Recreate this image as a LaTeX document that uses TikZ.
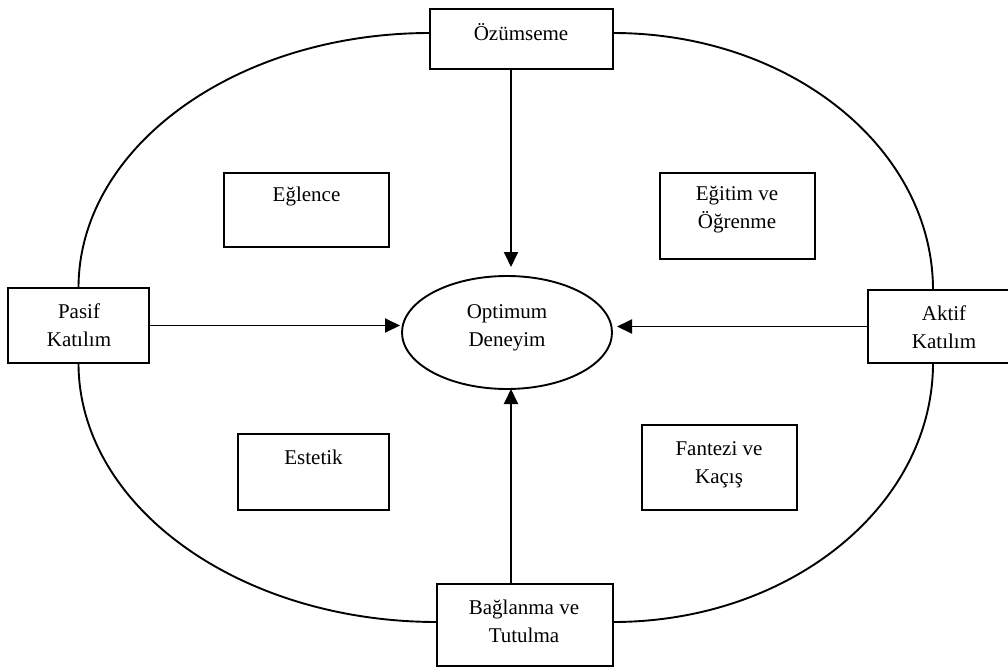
\documentclass[tikz,border=0pt]{standalone}
\usepackage{fontspec}
\setmainfont{Liberation Serif}
\usetikzlibrary{arrows.meta,shapes.geometric}
\begin{document}
\begin{tikzpicture}[x=1pt,y=-1pt,
  every node/.style={inner sep=0pt, outer sep=0pt},
  boxnode/.style={draw, line width=1.9pt, rectangle, fill=none},
  txt/.style={font=\fontsize{21}{28}\selectfont, align=center},
  ring/.style={line width=1.9pt},
  arr/.style={line width=1.9pt, -{Triangle[length=15pt,width=14pt]}}
]
\useasboundingbox (0,0) rectangle (1008,668);
\fill[white] (0,0) rectangle (1008,668);

% boxes
\node[boxnode, minimum width=183pt, minimum height=60pt] (ozum) at (521.5,39) {};
\node[boxnode, minimum width=165pt, minimum height=74pt] (egl) at (306.5,210) {};
\node[boxnode, minimum width=155pt, minimum height=86pt] (egit) at (737.5,216) {};
\node[boxnode, minimum width=141pt, minimum height=75pt] (pasif) at (78.5,325.5) {};
\node[boxnode, minimum width=152pt, minimum height=73pt] (aktif) at (944,326.5) {};
\node[boxnode, minimum width=151pt, minimum height=76pt] (estetik) at (313.5,472) {};
\node[boxnode, minimum width=155pt, minimum height=85pt] (fantezi) at (719.5,467.5) {};
\node[boxnode, minimum width=176pt, minimum height=82pt] (bag) at (525,625) {};
\node[draw, line width=1.9pt, ellipse, minimum width=210pt, minimum height=113pt] (opt) at (507,332.5) {};

% texts
\node[txt] (ozumt) at (521,32.5) {Özümseme};
\node[txt] (eglt) at (306.5,196.5) {Eğlence};
\node[txt] (egitt) at (737,210) {Eğitim ve\\Öğrenme};
\node[txt] (pasift) at (79,325.5) {Pasif\\Katılım};
\node[txt] (optt) at (507,327.5) {Optimum\\Deneyim};
\node[txt] (aktift) at (944,327) {Aktif\\Katılım};
\node[txt] (estetikt) at (313.5,457.5) {Estetik};
\node[txt] (fantezit) at (719,464.5) {Fantezi ve\\Kaçış};
\node[txt] (bagt) at (524,621) {Bağlanma ve\\Tutulma};

% outer ring (four arcs between boxes)
\draw[ring] ([yshift=6pt]ozum.west) .. controls +(-194,0) and +(0,-141) .. (pasif.north);
\draw[ring] ([yshift=6pt]ozum.east) .. controls +(177,0) and +(0,-142) .. ([xshift=-11pt]aktif.north);
\draw[ring] (pasif.south) .. controls +(0,143) and +(-198,0) .. ([yshift=3pt]bag.west);
\draw[ring] ([xshift=-11pt]aktif.south) .. controls +(0,143) and +(177,0) .. ([yshift=3pt]bag.east);

% arrows
\coordinate (vx) at (511,0);
\draw[arr, shorten >=9pt] (ozum.south -| vx) -- (opt.north -| vx);
\draw[arr] (bag.north -| vx) -- (opt.south -| vx);
\draw[arr, shorten >=2pt] (pasif.east) -- (pasif.east -| opt.west);
\draw[arr, shorten >=5pt] (aktif.west) -- (aktif.west -| opt.east);
\end{tikzpicture}
\end{document}
